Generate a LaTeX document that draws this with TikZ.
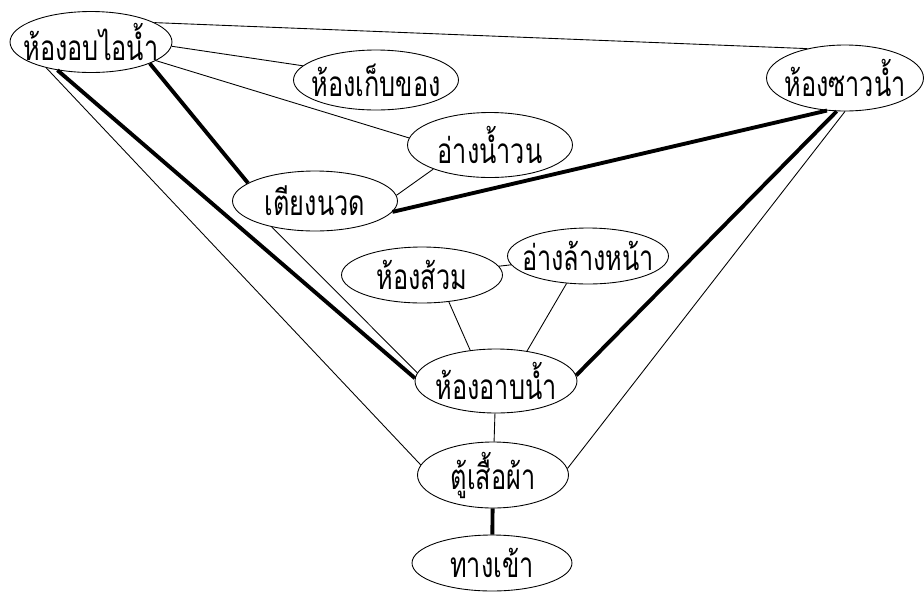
\documentclass[tikz,border=0pt]{standalone}
\usepackage{fontspec}
\newfontfamily\thaifont[Script=Thai,FakeStretch=0.72]{Loma}
\usepackage{tikz}
\usetikzlibrary{shapes.geometric}

\begin{document}
\begin{tikzpicture}[x=0.02cm,y=-0.02cm,font=\thaifont\fontsize{20}{22}\selectfont,
  room/.style={draw,ellipse,line width=0.5pt,inner xsep=-1cm,inner ysep=0pt,minimum width=3.24cm,minimum height=1.22cm},
  link/.style={line width=0.5pt},
  mainlink/.style={line width=2.2pt}]
\useasboundingbox (0,0) rectangle (924,593);
% rooms
\node[room] (sauna) at (91,42) {ห้องอบไอน้ำ};
\node[room,minimum width=3.3cm,minimum height=1.2cm] (storage) at (376,80) {ห้องเก็บของ};
\node[room,minimum width=3.3cm,minimum height=1.3cm] (jacuzzi) at (490,145) {อ่างน้ำวน};
\node[room,minimum width=3.3cm,minimum height=1.2cm] (massage) at (315,201) {เตียงนวด};
\node[room,minimum width=3.14cm,minimum height=1.32cm] (shower) at (845,78) {ห้องซาวน้ำ};
\node[room,minimum width=3.22cm,minimum height=1.12cm] (toilet) at (422,275) {ห้องส้วม};
\node[room,minimum width=3.22cm,minimum height=1.12cm] (basin) at (588,256) {อ่างล้างหน้า};
\node[room,minimum height=1.28cm] (bath) at (496,381) {ห้องอาบน้ำ};
\node[room,minimum width=3.02cm,minimum height=1.32cm] (wardrobe) at (493,475) {ตู้เสื้อผ้า};
\node[room,minimum width=3.2cm,minimum height=1.12cm] (entry) at (492,563) {ทางเข้า};
% connections
\draw[link] (sauna.17) -- (shower.142);
\draw[link] (sauna.-3) -- (storage.169);
\draw[link] (sauna.-16) -- (jacuzzi.175);
\draw[link] (jacuzzi.203) -- (massage.4);
\draw[link] (sauna.210) -- (wardrobe.172);
\draw[link] (massage.211) -- (bath.174);
\draw[link] (shower.270) -- (wardrobe.5);
\draw[link] (toilet) -- (basin);
\draw[link] (toilet.-45) -- (bath.130);
\draw[link] (basin.232) -- (bath.44);
\draw[link] (bath) -- (wardrobe);
\draw[mainlink] (sauna.-20) -- (massage.165);
\draw[mainlink] (sauna.220) -- (bath.178);
\draw[mainlink] (massage.-8) -- (shower.241);
\draw[mainlink] (shower.256) -- (bath.4);
\draw[mainlink] (wardrobe) -- (entry);
\end{tikzpicture}
\end{document}
